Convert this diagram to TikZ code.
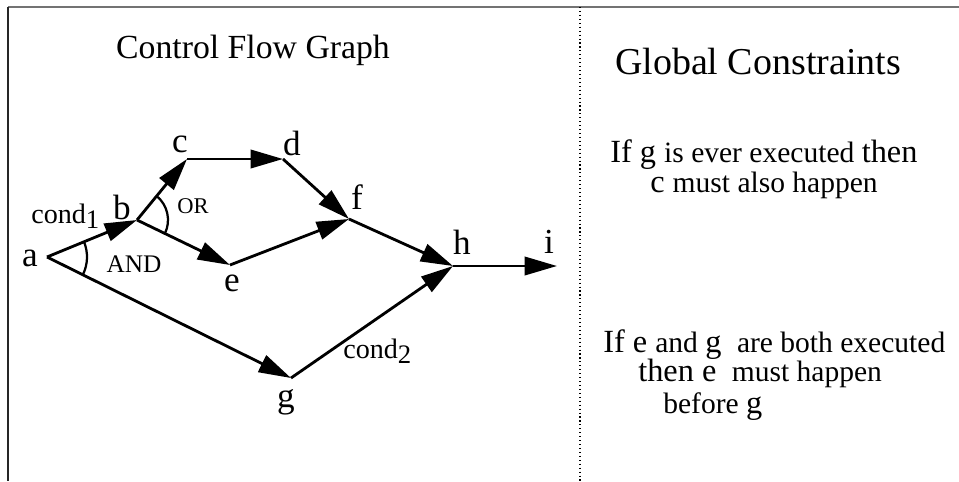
\documentclass[tikz,border=0pt]{standalone}
\usepackage{fontspec}
\setmainfont{Liberation Serif}
\usetikzlibrary{arrows.meta, positioning}
\newcommand{\lgtxt}{\fontsize{23}{27}\selectfont}
\newcommand{\smtxt}{\fontsize{21}{25}\selectfont}
\begin{document}
\begin{tikzpicture}[x=0.025cm, y=0.025cm,
  lbl/.style={font=\fontsize{25}{29}\selectfont, inner sep=0pt},
  condlbl/.style={font=\fontsize{20}{24}\selectfont, inner sep=0pt, anchor=base west},
  edge/.style={line width=2pt, -{Triangle[length=23pt,width=13pt]}},
  junction/.style={line width=1.6pt},
  rtext/.style={anchor=base west, inner sep=0pt}
]
  \useasboundingbox (0,0) rectangle (959,-481);
  % frame and divider
  \draw[line width=1.5pt, black!55] (8,-7) -- (959,-7);
  \draw[line width=1.5pt, black!85] (8,-7) -- (8,-481);
  \draw[dotted, line width=0.8pt] (580,-7) -- (580,-481);

  % titles
  \node[font=\fontsize{24}{28}\selectfont] (cfg) at (253,-50) {Control Flow Graph};
  \node[font=\fontsize{27}{31}\selectfont] (gc) at (758,-62) {Global Constraints};

  % graph vertices
  \coordinate (a) at (47,-257);
  \coordinate (b) at (137,-220);
  \coordinate (c) at (187,-159);
  \coordinate (d) at (283,-159);
  \coordinate (e) at (230,-265);
  \coordinate (f) at (349,-219);
  \coordinate (g) at (291,-378);
  \coordinate (h) at (453,-266);
  \coordinate (i) at (557,-266);

  \node[lbl] (la) at (30,-258) {a};
  \node[lbl] (lb) at (122,-207) {b};
  \node[lbl] (lc) at (180,-144) {c};
  \node[lbl] (ld) at (292,-143) {d};
  \node[lbl] (le) at (232,-283) {e};
  \node[lbl] (lf) at (357,-197) {f};
  \node[lbl] (lg) at (286,-402) {g};
  \node[lbl] (lh) at (462,-242) {h};
  \node[lbl] (li) at (549,-242) {i};

  % edges
  \draw[edge] (a) -- (b);
  \draw[edge] (b) -- (c);
  \draw[edge] (c) -- (d);
  \draw[edge] (d) -- (f);
  \draw[edge] (b) -- (e);
  \draw[edge] (e) -- (f);
  \draw[edge] (f) -- (h);
  \draw[edge] (a) -- (g);
  \draw[edge] (g) -- (h);
  \draw[edge] (h) -- (i);

  % OR / AND arcs
  \draw[junction] (b) ++(51:31) arc[start angle=51, end angle=-26, radius=31];
  \draw[junction] (a) ++(22:40) arc[start angle=22, end angle=-26, radius=40];
  \node[font=\fontsize{16}{18}\selectfont] (or) at (193,-206) {OR};
  \node[font=\fontsize{18}{20}\selectfont] (and) at (134,-264) {AND};

  \node[condlbl] (cond1) at (31,-223) {cond\raisebox{-0.45ex}{\fontsize{19}{19}\selectfont 1}};
  \node[condlbl] (cond2) at (343,-358) {cond\raisebox{-0.45ex}{\fontsize{19}{19}\selectfont 2}};

  % constraints
  \node[rtext] (r1) at (610,-162) {\lgtxt If g \smtxt is ever executed \lgtxt then};
  \node[rtext] (r2) at (650,-192) {\lgtxt c \smtxt must also happen};
  \node[rtext] (r3) at (603,-352) {\lgtxt If e \smtxt and \lgtxt g \smtxt\ are both executed};
  \node[rtext] (r4) at (638,-381) {\lgtxt then e \smtxt\ must happen};
  \node[rtext] (r5) at (663,-413) {\smtxt before \lgtxt g};
\end{tikzpicture}
\end{document}
